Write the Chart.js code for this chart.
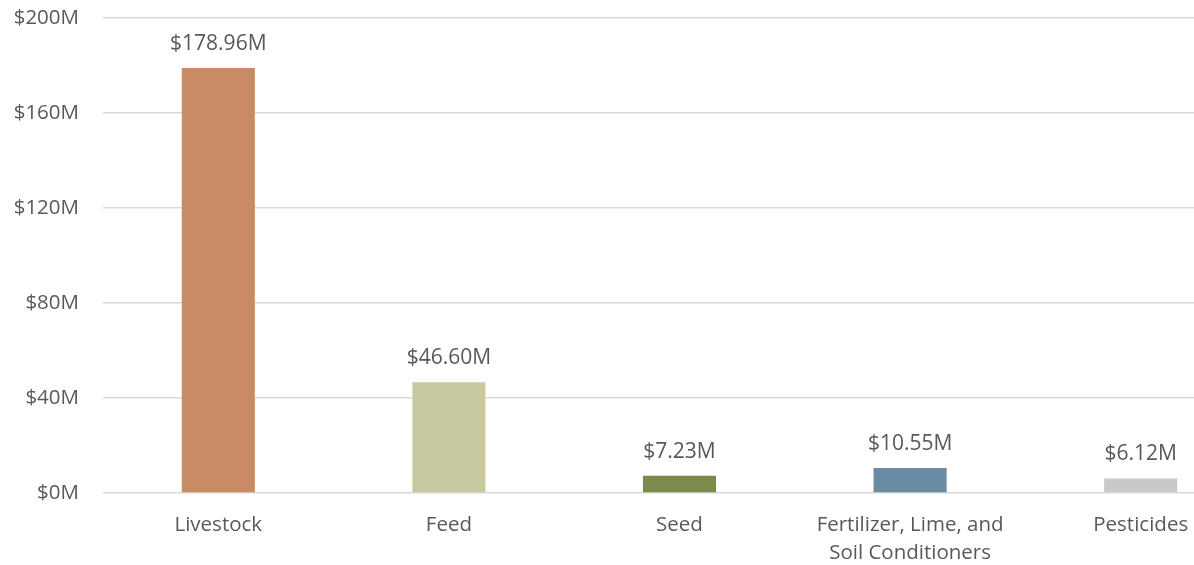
<!DOCTYPE html>
<html>
<head>
<meta charset="utf-8">
<script src="https://cdn.jsdelivr.net/npm/chart.js@4.4.0/dist/chart.umd.min.js"></script>
<style>
html,body{margin:0;padding:0;background:#fff;overflow:hidden;}
#wrap{width:1256px;height:565px;position:relative;}
</style>
</head>
<body>
<div id="wrap"><canvas id="c"></canvas></div>
<script>
const categories = [["Livestock"], ["Feed"], ["Seed"], ["Fertilizer, Lime, and", "Soil Conditioners"], ["Pesticides"]];
const values = [178.96, 46.60, 7.23, 10.55, 6.12];
const barColors = ["#C98B63", "#C8C9A0", "#7A8C4B", "#6A8BA3", "#C9C9C9"];
const yTicks = [0, 40, 80, 120, 160, 200];

const FONT = "'Open Sans', 'Liberation Sans', sans-serif";
const TEXT = "#595959";

const labelPlugin = {
  id: 'valueLabels',
  afterDatasetsDraw(chart) {
    const ctx = chart.ctx;
    const meta = chart.getDatasetMeta(0);
    ctx.save();
    ctx.font = "21px " + FONT;
    ctx.fillStyle = TEXT;
    ctx.textAlign = 'center';
    ctx.textBaseline = 'middle';
    meta.data.forEach((bar, i) => {
      ctx.fillText('$' + values[i].toFixed(2) + 'M', bar.x, bar.y - 24);
    });
    ctx.restore();
  }
};

new Chart(document.getElementById('c'), {
  type: 'bar',
  data: {
    labels: categories,
    datasets: [{
      data: values,
      backgroundColor: barColors,
      barPercentage: 0.317,
      categoryPercentage: 1.0
    }]
  },
  options: {
    responsive: true,
    maintainAspectRatio: false,
    animation: false,
    layout: { padding: { top: 18, left: 0, right: 0, bottom: 0 } },
    plugins: { legend: { display: false }, tooltip: { enabled: false } },
    scales: {
      x: {
        grid: { display: false, drawTicks: false },
        border: { display: false },
        ticks: {
          color: TEXT,
          font: { family: FONT, size: 20.5, lineHeight: 1.37 },
          padding: 18,
          maxRotation: 0,
          autoSkip: false
        },
        afterFit(scale) { scale.height = 72; scale.paddingLeft = 0; scale.paddingRight = 0; }
      },
      y: {
        min: 0,
        max: 200,
        afterBuildTicks(scale) { scale.ticks = yTicks.map(v => ({ value: v })); },
        grid: { color: "#D9D9D9", lineWidth: 1.5, drawTicks: false },
        border: { display: false },
        ticks: {
          color: TEXT,
          font: { family: FONT, size: 20.5 },
          padding: 24,
          callback: (v) => '$' + v + 'M'
        },
        afterFit(scale) { scale.width = 103; scale.paddingTop = 0; scale.paddingBottom = 0; }
      }
    }
  },
  plugins: [labelPlugin]
});
</script>
</body>
</html>
